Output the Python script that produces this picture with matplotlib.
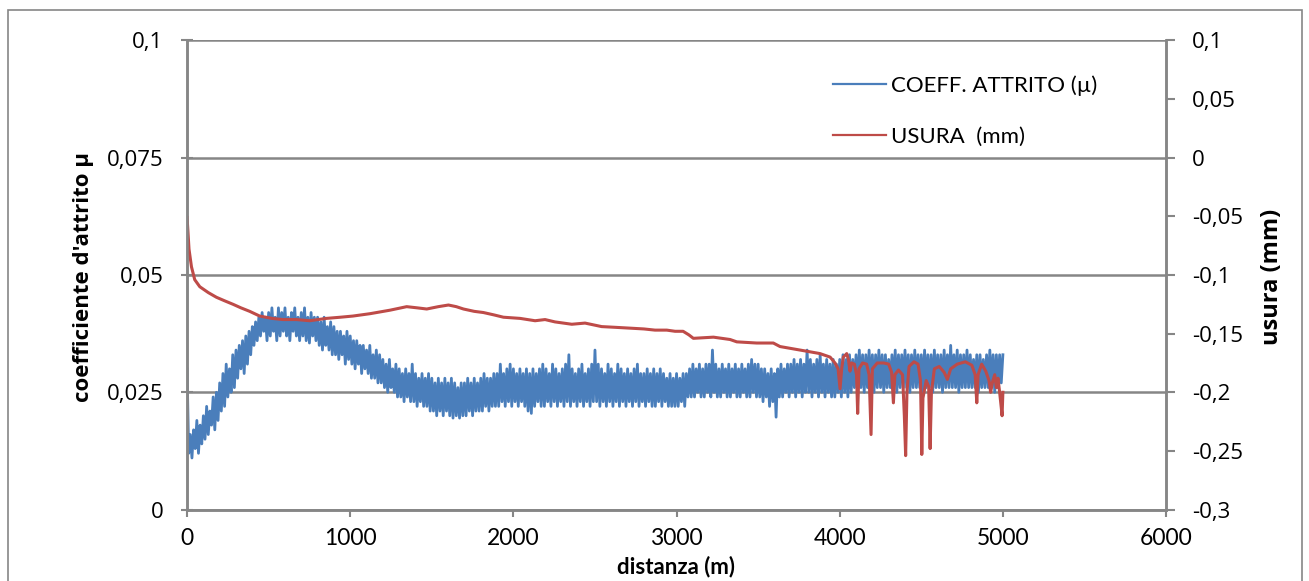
import numpy as np
import matplotlib
matplotlib.use("Agg")
import matplotlib.pyplot as plt
from matplotlib.ticker import FuncFormatter, MultipleLocator
from matplotlib.patches import Rectangle

plt.rcParams['font.family'] = ['Lato', 'DejaVu Sans']

# Coefficient of friction (x 1000), one sample every 10 m from 0 to 5000 m
step_m = 10
coeff_milli = [
    30, 12, 16, 11, 17, 13, 19, 12, 18, 14,
    20, 15, 22, 16, 21, 18, 24, 17, 25, 19,
    27, 21, 29, 22, 31, 24, 30, 25, 33, 26,
    34, 28, 35, 30, 36, 29, 37, 31, 38, 33,
    39, 35, 40, 36, 41, 37, 42, 38, 41, 36,
    42, 37, 43, 38, 41, 36, 43, 37, 42, 38,
    43, 37, 41, 36, 42, 38, 43, 37, 41, 36,
    42, 37, 43, 36, 41, 35.5, 42, 37, 41, 36,
    41, 35, 40, 34, 41, 35, 39, 34, 40, 33,
    39, 33, 38, 32, 38, 33, 37, 31, 38, 32,
    37, 31, 36, 30, 36, 31, 35, 29, 35, 30,
    34, 29, 35, 28, 33, 28, 34, 27, 33, 27,
    32, 26, 31, 25, 32, 26, 30, 25, 31, 24,
    30, 24, 29, 23, 30, 24, 29, 23, 31, 23,
    29, 22, 28, 23, 29, 22, 28, 22, 29, 21,
    28, 21, 27, 20, 28, 21, 27, 20, 28, 21,
    27, 20, 28, 19.5, 27, 20, 26, 19.5, 27, 20,
    27, 20, 28, 21, 27, 20, 28, 21, 27, 21,
    28, 21, 29, 22, 28, 21, 28, 22, 29, 22,
    29, 22, 31, 23, 29, 22, 30, 23, 31, 22,
    30, 23, 29, 22, 30, 23, 29, 22, 30, 21,
    29, 20.5, 30, 22, 29, 23, 30, 22, 31, 22,
    30, 23, 29, 22, 31, 23, 30, 22, 29, 23,
    30, 22, 31, 23, 33, 22, 30, 23, 29, 22,
    30, 23, 31, 22, 29, 23, 30, 22, 31, 23,
    34, 23, 31, 22, 30, 23, 29, 22, 31, 23,
    30, 22, 29, 23, 31, 22, 30, 23, 29, 22,
    30, 23, 29, 22, 30, 23, 31, 22, 29, 23,
    29, 22, 30, 23, 29, 22, 30, 22, 29, 23,
    30, 22, 29, 23, 28, 22, 29, 22, 28, 22,
    29, 22, 28, 23, 29, 22, 29, 24, 30, 24,
    31, 24, 30, 25, 31, 24, 30, 24, 31, 25,
    31, 24, 34, 25, 31, 24, 30, 24, 31, 25,
    30, 24, 31, 24, 30, 25, 31, 24, 30, 24,
    31, 25, 30, 24, 31, 24, 32, 25, 31, 24,
    31, 24, 30, 23, 30, 24, 29, 22, 30, 23,
    29, 19.7, 30, 24, 31, 24, 30, 25, 31, 24,
    31, 25, 32, 24, 31, 25, 32, 24, 31, 25,
    34, 25, 32, 24, 31, 25, 32, 24, 33, 25,
    31, 24, 32, 25, 31, 24, 32, 24, 31, 25,
    32, 24, 33, 25, 32, 24, 33, 25, 32, 26,
    33, 26, 34, 26, 33, 25, 33, 26, 34, 26,
    33, 25, 33, 26, 34, 26, 33, 25, 33, 26,
    32, 26, 33, 26, 34, 25, 33, 26, 33, 26,
    34, 26, 33, 25, 33, 26, 34, 26, 33, 26,
    33, 25, 34, 26, 33, 26, 33, 25, 34, 26,
    33, 26, 33, 25, 34, 26, 33, 26, 35, 26,
    33, 26, 34, 25, 33, 26, 33, 26, 34, 26,
    33, 26, 32, 26, 33, 25, 33, 26, 32, 26,
    33, 26, 34, 26, 33, 25, 33, 26, 33, 27,
    33,
]
coeff_attrito = np.array(coeff_milli) / 1000.0
dist_coeff = np.arange(len(coeff_attrito)) * step_m

# Wear (mm) against distance (m)
dist_usura = [
    0, 5, 12, 27, 47, 78, 130, 180, 230, 282, 330, 384, 445, 520, 588, 670,
    752, 854, 940, 1017, 1121, 1244, 1346, 1410, 1469, 1540, 1602, 1650,
    1694, 1760, 1816, 1880, 1939, 2041, 2133, 2194, 2255, 2358, 2439, 2541,
    2623, 2725, 2800, 2868, 2940, 2991, 3040, 3075, 3103, 3226, 3328, 3369,
    3491, 3593, 3634, 3716, 3798, 3879, 3941, 3971, 3990, 4002, 4012, 4022,
    4043, 4053, 4063, 4073, 4090, 4103, 4110, 4118, 4140, 4165, 4180, 4192,
    4200, 4230, 4270, 4300, 4318, 4329, 4338, 4360, 4385, 4396, 4404, 4412,
    4425, 4455, 4480, 4495, 4503, 4510, 4530, 4545, 4554, 4562, 4580, 4610,
    4640, 4660, 4680, 4720, 4770, 4810, 4830, 4840, 4848, 4870, 4895, 4915,
    4925, 4935, 4950, 4960, 4970, 4980, 4990, 4995, 5000,
]
usura_mm = [
    -0.051, -0.062, -0.078, -0.093, -0.104, -0.110, -0.115, -0.119, -0.122,
    -0.125, -0.128, -0.131, -0.135, -0.137, -0.138, -0.138, -0.139, -0.137,
    -0.136, -0.135, -0.133, -0.130, -0.127, -0.128, -0.129, -0.127, -0.1256,
    -0.127, -0.129, -0.131, -0.132, -0.134, -0.136, -0.137, -0.139, -0.138,
    -0.140, -0.142, -0.141, -0.144, -0.1446, -0.1454, -0.146, -0.147, -0.147,
    -0.148, -0.148, -0.151, -0.154, -0.153, -0.155, -0.157, -0.158, -0.158,
    -0.161, -0.163, -0.165, -0.167, -0.170, -0.175, -0.180, -0.197, -0.180,
    -0.170, -0.167, -0.172, -0.182, -0.175, -0.176, -0.185, -0.218, -0.180,
    -0.175, -0.176, -0.185, -0.236, -0.180, -0.175, -0.175, -0.176, -0.183,
    -0.209, -0.185, -0.181, -0.185, -0.220, -0.254, -0.200, -0.178, -0.174,
    -0.176, -0.190, -0.253, -0.205, -0.190, -0.195, -0.248, -0.200, -0.180,
    -0.178, -0.183, -0.189, -0.180, -0.176, -0.174, -0.177, -0.185, -0.209,
    -0.185, -0.176, -0.182, -0.190, -0.200, -0.192, -0.185, -0.196, -0.188,
    -0.200, -0.213, -0.220, -0.200,
]

blue = '#4A7EBB'
red = '#BE4B48'
grey = '#868686'
wide = ['Open Sans', 'DejaVu Sans']


def comma_fmt(v, pos):
    if abs(v) < 1e-12:
        return '0'
    return f'{v:g}'.replace('.', ',')


fig = plt.figure(figsize=(13.09, 5.81), dpi=100)
fig.patches.append(Rectangle((8 / 1309, -0.05), (1302 - 8) / 1309, 1 - 10 / 581 + 0.05,
                             transform=fig.transFigure, fill=False,
                             edgecolor=grey, lw=1.2))

ax = fig.add_axes([0.1429, 0.1229, 0.7479, 0.8076])
ax2 = ax.twinx()

ax.plot(dist_coeff, coeff_attrito, color=blue, lw=2.0,
        label='COEFF. ATTRITO (µ)')
ax2.plot(dist_usura, usura_mm, color=red, lw=2.2, label='USURA  (mm)')

ax.set_xlim(0, 6000)
ax.set_ylim(0, 0.1)
ax2.set_ylim(-0.3, 0.1)

ax.xaxis.set_major_locator(MultipleLocator(1000))
ax.yaxis.set_major_locator(MultipleLocator(0.025))
ax2.yaxis.set_major_locator(MultipleLocator(0.05))
ax.yaxis.set_major_formatter(FuncFormatter(comma_fmt))
ax2.yaxis.set_major_formatter(FuncFormatter(comma_fmt))

ax.grid(axis='y', color=grey, lw=1.8)
ax.set_axisbelow(True)

for a in (ax, ax2):
    a.spines['top'].set_visible(False)
    for s in ('left', 'right', 'bottom'):
        a.spines[s].set_color(grey)
        a.spines[s].set_linewidth(1.8)

ax.tick_params(axis='y', direction='inout', length=8, width=1.5, color=grey,
               labelsize=16, pad=13)
ax.tick_params(axis='x', direction='out', length=5, width=1.5, color=grey,
               labelsize=16.5, pad=8)
ax2.tick_params(axis='y', direction='out', length=6.5, width=1.5, color=grey,
                labelsize=16, pad=12)
for lab in ax.get_yticklabels() + ax2.get_yticklabels():
    lab.set_family(wide)

fig.text(83 / 1309, 1 - 277 / 581, "coefficiente d'attrito µ", rotation=90,
         ha='center', va='center', fontsize=16, fontweight='bold', family=wide)
fig.text(1272 / 1309, 1 - 277 / 581, 'usura (mm)', rotation=90,
         ha='center', va='center', fontsize=17, fontweight='bold', family=wide)
fig.text(676 / 1309, 1 - 567 / 581, 'distanza (m)', ha='center', va='center',
         fontsize=16, fontweight='bold')

h1, l1 = ax.get_legend_handles_labels()
h2, l2 = ax2.get_legend_handles_labels()
leg = ax2.legend(h1 + h2, l1 + l2, loc='upper left',
                 bbox_to_anchor=(813 / 1309, 1 - 55 / 581),
                 bbox_transform=fig.transFigure, frameon=False, fontsize=16,
                 handlelength=2.4, handletextpad=0.2, labelspacing=1.4)
for line in leg.get_lines():
    line.set_linewidth(1.6)

fig.savefig('out.png', dpi=100)
